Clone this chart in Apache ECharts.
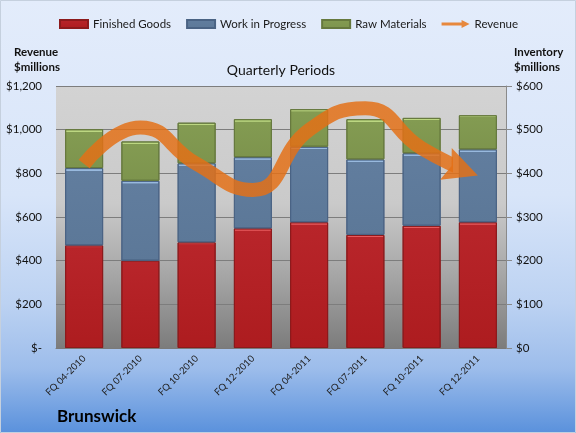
<!DOCTYPE html>
<html><head><meta charset="utf-8">
<script src="https://cdn.jsdelivr.net/npm/echarts@6/dist/echarts.min.js"></script>
<style>html,body{margin:0;padding:0;background:#fff;}#c{width:576px;height:433px;}</style>
</head><body><div id="c"></div>
<script>
// ---- data ----
const categories = ['FQ 04-2010','FQ 07-2010','FQ 10-2010','FQ 12-2010','FQ 04-2011','FQ 07-2011','FQ 10-2011','FQ 12-2011'];
const finishedGoods  = [235, 200, 242, 274, 288, 259, 280, 288];
const workInProgress = [177, 183, 181, 163, 173, 173, 166, 167];
const rawMaterials   = [ 89,  90,  93,  87,  86,  92,  81,  78];
const revenue        = [843, 1010, 843, 724, 999, 1098, 915, 790];
const seriesNames = ['Finished Goods', 'Work in Progress', 'Raw Materials', 'Revenue'];

const FONT = 'Lato';
const ORANGE = 'rgba(228,112,22,0.84)';

function barStyle(hl, base, baseDark, border, frac) {
  return {
    color: { type: 'linear', x: 0, y: 0, x2: 0, y2: 1, colorStops: [
      { offset: 0, color: hl }, { offset: frac, color: hl },
      { offset: frac + 0.004, color: base }, { offset: 1, color: baseDark }
    ]},
    borderColor: border, borderWidth: 1
  };
}

const arrowAngle = 20;          // degrees below horizontal
const arrowSize = 34;
const rad = arrowAngle * Math.PI / 180;
const revData = revenue.map((v, i) => i === revenue.length - 1 ? {
  value: v,
  symbol: 'path://M0,0 L34,17 L0,34 L6,17 Z',
  symbolSize: [arrowSize, arrowSize],
  symbolRotate: -arrowAngle,
  symbolOffset: [-arrowSize / 2 * Math.cos(rad), -arrowSize / 2 * Math.sin(rad)],
  itemStyle: { color: ORANGE }
} : v);

const option = {
  animation: false,
  backgroundColor: { type: 'linear', x: 0, y: 0, x2: 0, y2: 1, colorStops: [
    { offset: 0, color: '#e3ecfb' }, { offset: 0.45, color: '#d8e5f9' },
    { offset: 0.7, color: '#bcd2f2' }, { offset: 0.85, color: '#9dbdeb' },
    { offset: 1, color: '#5a91dc' }
  ]},
  graphic: [
    { type: 'rect', silent: true, shape: { x: 0.5, y: 0.5, width: 575, height: 432 },
      style: { fill: 'none', stroke: '#c5d0de', lineWidth: 1 } },
    { type: 'text', left: 14, top: 45, silent: true,
      style: { text: 'Revenue\n$millions', font: 'bold 11.5px ' + FONT, fill: '#111', lineHeight: 15 } },
    { type: 'text', left: 514, top: 45, silent: true,
      style: { text: 'Inventory\n$millions', font: 'bold 11.5px ' + FONT, fill: '#111', lineHeight: 15 } },
    { type: 'text', x: 281, y: 70, silent: true,
      style: { text: 'Quarterly Periods', font: '14px ' + FONT, fill: '#111', align: 'center', verticalAlign: 'middle' } },
    { type: 'text', x: 57, y: 417, silent: true,
      style: { text: 'Brunswick', font: 'bold 17px ' + FONT, fill: '#000', align: 'left', verticalAlign: 'middle' } }
  ],
  legend: {
    top: 13, left: 54, itemWidth: 28, itemHeight: 8, itemGap: 15,
    textStyle: { fontFamily: FONT, fontSize: 11.5, color: '#1a1a1a' },
    data: [
      { name: seriesNames[0], icon: 'rect' },
      { name: seriesNames[1], icon: 'rect' },
      { name: seriesNames[2], icon: 'rect' },
      { name: seriesNames[3], icon: 'path://M0,2.6 L20,2.6 L20,0 L28,4 L20,8 L20,5.4 L0,5.4 Z',
        itemStyle: { color: 'rgba(232,125,40,0.9)' } }
    ]
  },
  grid: {
    left: 56, right: 70, top: 86, bottom: 85, show: true, borderWidth: 0,
    backgroundColor: { type: 'linear', x: 0, y: 0, x2: 0, y2: 1, colorStops: [
      { offset: 0, color: '#d3d3d3' }, { offset: 0.45, color: '#cacaca' },
      { offset: 0.75, color: '#a2a2a2' }, { offset: 1, color: '#7c7c7c' }
    ]}
  },
  xAxis: {
    type: 'category', data: categories,
    axisLine: { show: true, lineStyle: { color: '#7a7a7a' } },
    axisTick: { show: false },
    axisLabel: { rotate: 45, interval: 0, margin: 9, fontFamily: FONT, fontSize: 9.5, color: '#222' }
  },
  yAxis: [
    { type: 'value', min: 0, max: 1200, interval: 200, position: 'left',
      axisLine: { show: false }, axisTick: { show: false },
      splitLine: { show: true, lineStyle: { color: '#7d7d7d', width: 1 } },
      axisLabel: { margin: 14, fontFamily: FONT, fontSize: 11.5, color: '#111',
        formatter: v => v === 0 ? '$-' : '$' + v.toLocaleString('en-US') } },
    { type: 'value', min: 0, max: 600, interval: 100, position: 'right',
      axisLine: { show: true, lineStyle: { color: '#8a8a8a' } },
      axisTick: { show: true, length: 6, lineStyle: { color: '#8a8a8a' } },
      splitLine: { show: false },
      axisLabel: { margin: 10, fontFamily: FONT, fontSize: 11.5, color: '#111',
        formatter: v => '$' + v } }
  ],
  series: [
    { name: seriesNames[0], type: 'bar', stack: 'inv', yAxisIndex: 1, barWidth: 38, data: finishedGoods,
      itemStyle: barStyle('#e65a5d', '#b8252a', '#ad1c1f', '#8c1a1c', 0.017) },
    { name: seriesNames[1], type: 'bar', stack: 'inv', yAxisIndex: 1, barWidth: 38, data: workInProgress,
      itemStyle: barStyle('#98b9de', '#617d9e', '#5c7898', '#4a6384', 0.032) },
    { name: seriesNames[2], type: 'bar', stack: 'inv', yAxisIndex: 1, barWidth: 38, data: rawMaterials,
      itemStyle: barStyle('#bcd782', '#839b52', '#7d944d', '#66793e', 0.06) },
    { name: seriesNames[3], type: 'line', yAxisIndex: 0, data: revData, smooth: 0.5, z: 5,
      symbol: 'circle', symbolSize: 0, showSymbol: true, showAllSymbol: true,
      lineStyle: { width: 14, color: ORANGE, cap: 'butt' },
      itemStyle: { color: ORANGE } }
  ]
};

const chart = echarts.init(document.getElementById('c'), null, { renderer: 'canvas' });
chart.setOption(option);

// hide the shaft under the arrowhead so the head is not darkened by overlap
const last = revenue.length - 1;
const tip = chart.convertToPixel({ seriesIndex: 3 }, [last, revenue[last]]);
const W = chart.getWidth();
const cut = (tip[0] - 27 * Math.cos(rad)) / W;
chart.setOption({ series: [{}, {}, {}, { lineStyle: { color: {
  type: 'linear', x: 0, y: 0, x2: W, y2: 0, global: true, colorStops: [
    { offset: 0, color: ORANGE }, { offset: cut, color: ORANGE },
    { offset: cut + 0.0005, color: 'rgba(228,112,22,0)' }, { offset: 1, color: 'rgba(228,112,22,0)' }
  ]}}}]});
</script>
</body></html>
